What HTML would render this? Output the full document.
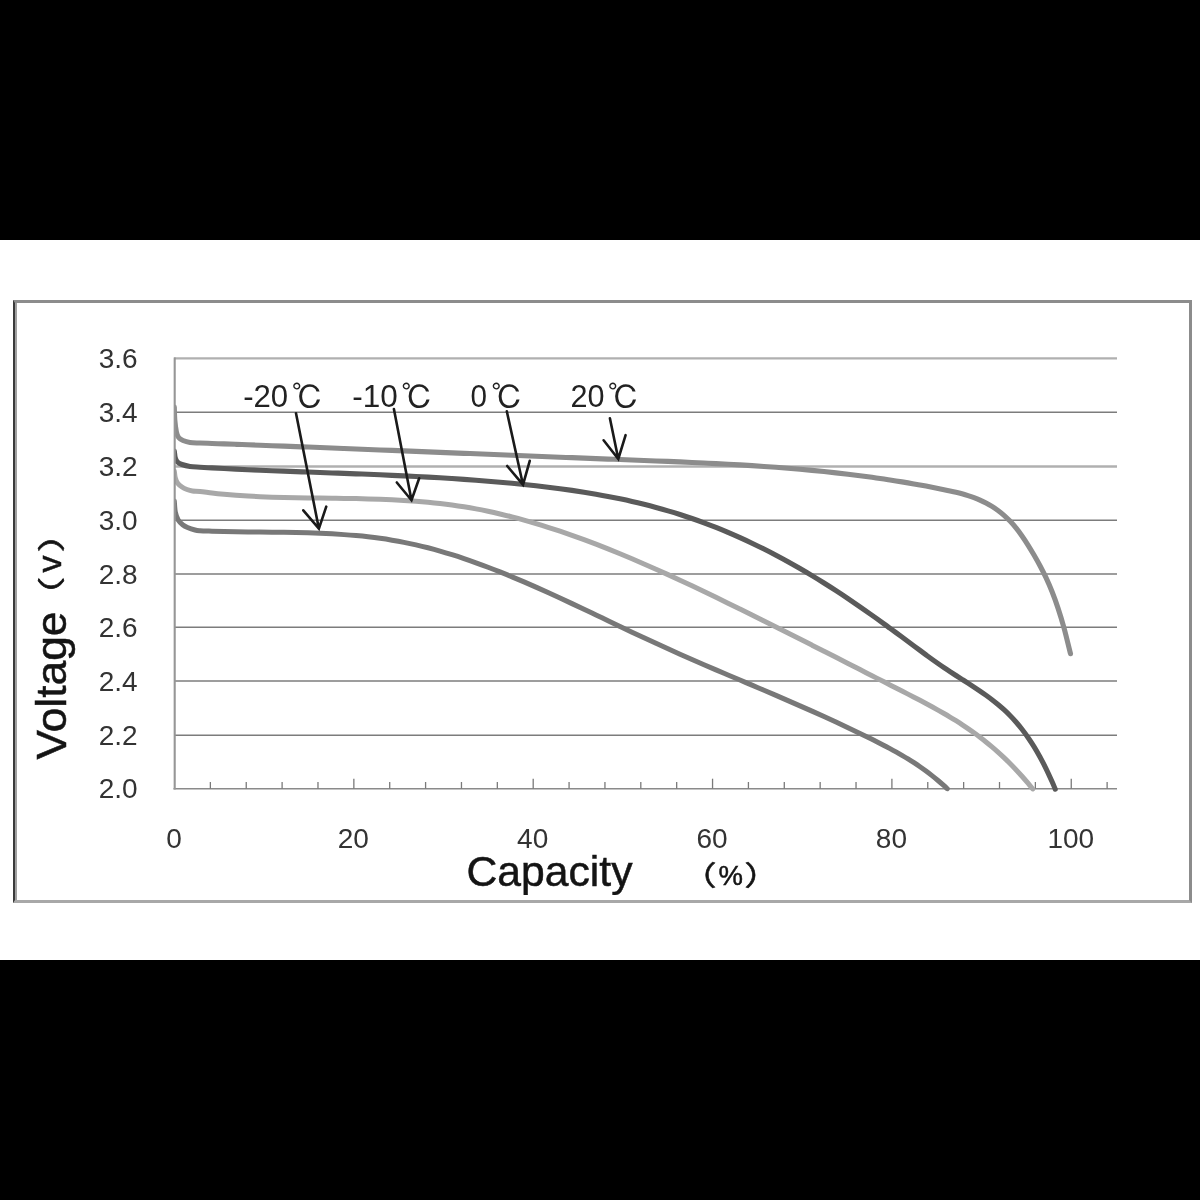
<!DOCTYPE html>
<html lang="en">
<head>
<meta charset="utf-8">
<title>Discharge curves at different temperatures</title>
<style>
html,body{margin:0;padding:0;background:#000;}
body{width:1200px;height:1200px;position:relative;overflow:hidden;font-family:"Liberation Sans","Noto Sans CJK SC",sans-serif;}
.band{position:absolute;left:0;top:240px;width:1200px;height:720px;background:#fff;}
.frame{position:absolute;left:13px;top:300px;width:1173.5px;height:597px;box-sizing:content-box;border-top:3px solid #8c8c8c;border-right:3.5px solid #8c8c8c;border-bottom:3px solid #a8a8a8;border-left:2.5px solid #3a3a3a;}
.frame:before{content:"";position:absolute;left:0;top:0;width:2px;height:100%;background:#a0a0a0;}
svg{position:absolute;left:0;top:0;}
svg .soft{filter:blur(0.45px);}
svg text{font-family:"Liberation Sans","Noto Sans CJK SC",sans-serif;}
svg text.cjk{font-family:"Noto Sans CJK SC","Liberation Sans",sans-serif;}
svg text.ipa{font-family:"IPAGothic","Noto Sans CJK JP","Liberation Sans",sans-serif;}
</style>
</head>
<body>
<div class="band"></div>
<div class="frame"></div>
<svg width="1200" height="1200" viewBox="0 0 1200 1200">
<g class="grid">
<line x1="174" y1="358.40" x2="1117" y2="358.40" stroke="#b0b0b0" stroke-width="2.4"/>
<line x1="174" y1="412.20" x2="1117" y2="412.20" stroke="#7c7c7c" stroke-width="1.5"/>
<line x1="174" y1="466.50" x2="1117" y2="466.50" stroke="#b0b0b0" stroke-width="2.4"/>
<line x1="174" y1="520.20" x2="1117" y2="520.20" stroke="#7c7c7c" stroke-width="1.5"/>
<line x1="174" y1="574.10" x2="1117" y2="574.10" stroke="#7c7c7c" stroke-width="1.5"/>
<line x1="174" y1="627.20" x2="1117" y2="627.20" stroke="#7c7c7c" stroke-width="1.5"/>
<line x1="174" y1="681.00" x2="1117" y2="681.00" stroke="#7c7c7c" stroke-width="1.5"/>
<line x1="174" y1="735.20" x2="1117" y2="735.20" stroke="#7c7c7c" stroke-width="1.5"/>
<line x1="173.5" y1="788.70" x2="1117" y2="788.70" stroke="#8a8a8a" stroke-width="1.6"/>
<line x1="210.37" y1="782.0" x2="210.37" y2="788.7" stroke="#7a7a7a" stroke-width="1.3"/>
<line x1="246.24" y1="782.0" x2="246.24" y2="788.7" stroke="#7a7a7a" stroke-width="1.3"/>
<line x1="282.11" y1="782.0" x2="282.11" y2="788.7" stroke="#7a7a7a" stroke-width="1.3"/>
<line x1="317.98" y1="782.0" x2="317.98" y2="788.7" stroke="#7a7a7a" stroke-width="1.3"/>
<line x1="353.85" y1="778.7" x2="353.85" y2="788.7" stroke="#7a7a7a" stroke-width="1.3"/>
<line x1="389.72" y1="782.0" x2="389.72" y2="788.7" stroke="#7a7a7a" stroke-width="1.3"/>
<line x1="425.59" y1="782.0" x2="425.59" y2="788.7" stroke="#7a7a7a" stroke-width="1.3"/>
<line x1="461.46" y1="782.0" x2="461.46" y2="788.7" stroke="#7a7a7a" stroke-width="1.3"/>
<line x1="497.33" y1="782.0" x2="497.33" y2="788.7" stroke="#7a7a7a" stroke-width="1.3"/>
<line x1="533.20" y1="778.7" x2="533.20" y2="788.7" stroke="#7a7a7a" stroke-width="1.3"/>
<line x1="569.07" y1="782.0" x2="569.07" y2="788.7" stroke="#7a7a7a" stroke-width="1.3"/>
<line x1="604.94" y1="782.0" x2="604.94" y2="788.7" stroke="#7a7a7a" stroke-width="1.3"/>
<line x1="640.81" y1="782.0" x2="640.81" y2="788.7" stroke="#7a7a7a" stroke-width="1.3"/>
<line x1="676.68" y1="782.0" x2="676.68" y2="788.7" stroke="#7a7a7a" stroke-width="1.3"/>
<line x1="712.55" y1="778.7" x2="712.55" y2="788.7" stroke="#7a7a7a" stroke-width="1.3"/>
<line x1="748.42" y1="782.0" x2="748.42" y2="788.7" stroke="#7a7a7a" stroke-width="1.3"/>
<line x1="784.29" y1="782.0" x2="784.29" y2="788.7" stroke="#7a7a7a" stroke-width="1.3"/>
<line x1="820.16" y1="782.0" x2="820.16" y2="788.7" stroke="#7a7a7a" stroke-width="1.3"/>
<line x1="856.03" y1="782.0" x2="856.03" y2="788.7" stroke="#7a7a7a" stroke-width="1.3"/>
<line x1="891.90" y1="778.7" x2="891.90" y2="788.7" stroke="#7a7a7a" stroke-width="1.3"/>
<line x1="927.77" y1="782.0" x2="927.77" y2="788.7" stroke="#7a7a7a" stroke-width="1.3"/>
<line x1="963.64" y1="782.0" x2="963.64" y2="788.7" stroke="#7a7a7a" stroke-width="1.3"/>
<line x1="999.51" y1="782.0" x2="999.51" y2="788.7" stroke="#7a7a7a" stroke-width="1.3"/>
<line x1="1035.38" y1="782.0" x2="1035.38" y2="788.7" stroke="#7a7a7a" stroke-width="1.3"/>
<line x1="1071.25" y1="778.7" x2="1071.25" y2="788.7" stroke="#7a7a7a" stroke-width="1.3"/>
<line x1="1107.12" y1="782.0" x2="1107.12" y2="788.7" stroke="#7a7a7a" stroke-width="1.3"/>
</g>
<clipPath id="plotclip"><rect x="174" y="340" width="960" height="460"/></clipPath>
<g class="curves soft" fill="none" stroke-linecap="round" stroke-linejoin="round" clip-path="url(#plotclip)">
<path d="M174.30 501.00 C174.47 502.83 174.65 508.83 175.30 512.00 C175.95 515.17 176.92 517.83 178.20 520.00 C179.48 522.17 181.45 523.75 183.00 525.00 C184.55 526.25 185.50 526.67 187.50 527.50 C189.50 528.33 192.92 529.46 195.00 530.00 C197.08 530.54 197.17 530.52 200.00 530.72 C202.83 530.92 208.00 531.05 212.00 531.19 C216.00 531.32 220.00 531.43 224.00 531.52 C228.00 531.62 232.00 531.69 236.00 531.76 C240.00 531.83 244.00 531.88 248.00 531.93 C252.00 531.98 256.00 532.02 260.00 532.06 C264.00 532.10 268.00 532.14 272.00 532.19 C276.00 532.23 280.00 532.28 284.00 532.34 C288.00 532.40 292.00 532.47 296.00 532.55 C300.00 532.64 304.00 532.74 308.00 532.86 C312.00 532.98 316.00 533.12 320.00 533.28 C324.00 533.45 328.00 533.64 332.00 533.86 C336.00 534.09 340.00 534.34 344.00 534.63 C348.00 534.92 352.00 535.24 356.00 535.61 C360.00 535.98 364.00 536.38 368.00 536.84 C372.00 537.30 376.00 537.79 380.00 538.35 C384.00 538.90 388.00 539.51 392.00 540.17 C396.00 540.84 400.00 541.55 404.00 542.34 C408.00 543.12 412.00 543.97 416.00 544.88 C420.00 545.79 424.00 546.76 428.00 547.79 C432.00 548.83 436.00 549.92 440.00 551.07 C444.00 552.21 448.00 553.42 452.00 554.67 C456.00 555.92 460.00 557.23 464.00 558.58 C468.00 559.93 472.00 561.33 476.00 562.78 C480.00 564.22 484.00 565.70 488.00 567.23 C492.00 568.75 496.00 570.32 500.00 571.92 C504.00 573.51 508.00 575.15 512.00 576.82 C516.00 578.48 520.00 580.18 524.00 581.90 C528.00 583.62 532.00 585.38 536.00 587.15 C540.00 588.92 544.00 590.72 548.00 592.54 C552.00 594.35 556.00 596.19 560.00 598.04 C564.00 599.89 568.00 601.76 572.00 603.64 C576.00 605.51 580.00 607.40 584.00 609.30 C588.00 611.19 592.00 613.10 596.00 615.00 C600.00 616.91 604.00 618.82 608.00 620.73 C612.00 622.64 616.00 624.55 620.00 626.45 C624.00 628.35 628.00 630.25 632.00 632.14 C636.00 634.03 640.00 635.91 644.00 637.78 C648.00 639.65 652.00 641.50 656.00 643.34 C660.00 645.18 664.00 647.00 668.00 648.80 C672.00 650.61 676.00 652.40 680.00 654.17 C684.00 655.94 688.00 657.70 692.00 659.45 C696.00 661.20 700.00 662.94 704.00 664.67 C708.00 666.40 712.00 668.12 716.00 669.83 C720.00 671.55 724.00 673.25 728.00 674.96 C732.00 676.67 736.00 678.37 740.00 680.07 C744.00 681.77 748.00 683.47 752.00 685.17 C756.00 686.87 760.00 688.58 764.00 690.28 C768.00 691.99 772.00 693.70 776.00 695.42 C780.00 697.14 784.00 698.87 788.00 700.61 C792.00 702.34 796.00 704.09 800.00 705.85 C804.00 707.60 808.00 709.37 812.00 711.16 C816.00 712.94 820.00 714.74 824.00 716.56 C828.00 718.38 832.00 720.21 836.00 722.07 C840.00 723.92 844.00 725.79 848.00 727.69 C852.00 729.59 856.00 731.51 860.00 733.45 C864.00 735.40 868.00 737.36 872.00 739.36 C876.00 741.36 881.00 743.91 884.00 745.46 C887.00 747.00 888.00 747.55 890.00 748.62 C892.00 749.69 894.00 750.78 896.00 751.90 C898.00 753.01 900.00 754.15 902.00 755.32 C904.00 756.49 906.00 757.68 908.00 758.91 C910.00 760.14 912.00 761.40 914.00 762.71 C916.00 764.01 918.00 765.35 920.00 766.73 C922.00 768.12 924.00 769.54 926.00 771.02 C928.00 772.50 930.00 774.02 932.00 775.60 C934.00 777.17 936.00 778.80 938.00 780.49 C940.00 782.18 942.46 784.36 944.00 785.73 C945.54 787.10 946.71 788.23 947.25 788.72" stroke="#787878" stroke-width="5"/>
<path d="M174.30 471.00 C174.47 472.17 174.77 476.00 175.30 478.00 C175.83 480.00 176.38 481.50 177.50 483.00 C178.62 484.50 180.42 485.92 182.00 487.00 C183.58 488.08 185.25 488.83 187.00 489.50 C188.75 490.17 190.33 490.68 192.50 491.00 C194.67 491.32 196.75 491.08 200.00 491.40 C203.25 491.72 208.00 492.45 212.00 492.92 C216.00 493.38 220.00 493.79 224.00 494.17 C228.00 494.55 232.00 494.89 236.00 495.20 C240.00 495.50 244.00 495.77 248.00 496.01 C252.00 496.26 256.00 496.46 260.00 496.65 C264.00 496.84 268.00 497.00 272.00 497.14 C276.00 497.28 280.00 497.40 284.00 497.50 C288.00 497.61 292.00 497.69 296.00 497.77 C300.00 497.85 304.00 497.91 308.00 497.97 C312.00 498.03 316.00 498.07 320.00 498.12 C324.00 498.17 328.00 498.22 332.00 498.27 C336.00 498.32 340.00 498.36 344.00 498.42 C348.00 498.48 352.00 498.54 356.00 498.62 C360.00 498.70 364.00 498.78 368.00 498.89 C372.00 498.99 376.00 499.11 380.00 499.25 C384.00 499.39 388.00 499.55 392.00 499.74 C396.00 499.93 400.00 500.13 404.00 500.38 C408.00 500.62 412.00 500.89 416.00 501.19 C420.00 501.50 424.00 501.84 428.00 502.22 C432.00 502.60 436.00 503.01 440.00 503.48 C444.00 503.94 448.00 504.44 452.00 504.99 C456.00 505.55 460.00 506.15 464.00 506.80 C468.00 507.46 472.00 508.16 476.00 508.91 C480.00 509.66 484.00 510.47 488.00 511.31 C492.00 512.16 496.00 513.06 500.00 514.00 C504.00 514.94 508.00 515.92 512.00 516.95 C516.00 517.98 520.00 519.05 524.00 520.16 C528.00 521.27 532.00 522.42 536.00 523.62 C540.00 524.81 544.00 526.04 548.00 527.31 C552.00 528.58 556.00 529.88 560.00 531.22 C564.00 532.56 568.00 533.94 572.00 535.35 C576.00 536.76 580.00 538.21 584.00 539.68 C588.00 541.15 592.00 542.66 596.00 544.20 C600.00 545.73 604.00 547.30 608.00 548.90 C612.00 550.49 616.00 552.11 620.00 553.76 C624.00 555.41 628.00 557.08 632.00 558.78 C636.00 560.47 640.00 562.20 644.00 563.94 C648.00 565.68 652.00 567.45 656.00 569.24 C660.00 571.02 664.00 572.83 668.00 574.65 C672.00 576.48 676.00 578.32 680.00 580.18 C684.00 582.04 688.00 583.92 692.00 585.80 C696.00 587.69 700.00 589.60 704.00 591.52 C708.00 593.43 712.00 595.36 716.00 597.30 C720.00 599.24 724.00 601.20 728.00 603.16 C732.00 605.12 736.00 607.09 740.00 609.06 C744.00 611.04 748.00 613.02 752.00 615.01 C756.00 617.00 760.00 618.99 764.00 620.99 C768.00 622.98 772.00 624.99 776.00 626.99 C780.00 629.00 784.00 631.01 788.00 633.03 C792.00 635.04 796.00 637.06 800.00 639.08 C804.00 641.10 808.00 643.13 812.00 645.16 C816.00 647.18 820.00 649.21 824.00 651.25 C828.00 653.28 832.00 655.31 836.00 657.35 C840.00 659.39 844.00 661.43 848.00 663.47 C852.00 665.51 856.00 667.55 860.00 669.59 C864.00 671.63 868.00 673.68 872.00 675.72 C876.00 677.76 881.00 680.32 884.00 681.85 C887.00 683.38 888.00 683.89 890.00 684.91 C892.00 685.93 894.00 686.96 896.00 687.98 C898.00 689.00 900.00 690.02 902.00 691.04 C904.00 692.06 906.00 693.08 908.00 694.11 C910.00 695.13 912.00 696.16 914.00 697.20 C916.00 698.23 918.00 699.27 920.00 700.32 C922.00 701.37 924.00 702.43 926.00 703.50 C928.00 704.57 930.00 705.65 932.00 706.74 C934.00 707.84 936.00 708.94 938.00 710.07 C940.00 711.20 942.00 712.34 944.00 713.50 C946.00 714.66 948.00 715.84 950.00 717.05 C952.00 718.25 954.00 719.48 956.00 720.73 C958.00 721.99 960.00 723.26 962.00 724.57 C964.00 725.88 966.00 727.22 968.00 728.59 C970.00 729.96 972.00 731.37 974.00 732.81 C976.00 734.25 978.00 735.73 980.00 737.25 C982.00 738.77 984.00 740.32 986.00 741.93 C988.00 743.53 990.00 745.18 992.00 746.87 C994.00 748.56 996.00 750.30 998.00 752.09 C1000.00 753.89 1002.00 755.73 1004.00 757.62 C1006.00 759.52 1008.00 761.47 1010.00 763.47 C1012.00 765.48 1014.00 767.54 1016.00 769.67 C1018.00 771.80 1020.00 773.98 1022.00 776.23 C1024.00 778.49 1026.21 781.06 1028.00 783.18 C1029.79 785.31 1031.96 788.01 1032.75 788.97" stroke="#a8a8a8" stroke-width="5"/>
<path d="M174.30 451.00 C174.47 452.17 174.77 456.17 175.30 458.00 C175.83 459.83 176.38 460.92 177.50 462.00 C178.62 463.08 179.92 463.75 182.00 464.50 C184.08 465.25 187.00 466.05 190.00 466.50 C193.00 466.95 196.33 466.99 200.00 467.22 C203.67 467.45 208.00 467.68 212.00 467.90 C216.00 468.12 220.00 468.33 224.00 468.54 C228.00 468.74 232.00 468.94 236.00 469.13 C240.00 469.32 244.00 469.50 248.00 469.68 C252.00 469.86 256.00 470.03 260.00 470.20 C264.00 470.37 268.00 470.53 272.00 470.69 C276.00 470.85 280.00 471.01 284.00 471.16 C288.00 471.32 292.00 471.47 296.00 471.62 C300.00 471.77 304.00 471.91 308.00 472.06 C312.00 472.21 316.00 472.35 320.00 472.50 C324.00 472.65 328.00 472.79 332.00 472.94 C336.00 473.09 340.00 473.23 344.00 473.38 C348.00 473.53 352.00 473.69 356.00 473.84 C360.00 474.00 364.00 474.15 368.00 474.31 C372.00 474.48 376.00 474.64 380.00 474.81 C384.00 474.98 388.00 475.15 392.00 475.33 C396.00 475.51 400.00 475.70 404.00 475.89 C408.00 476.08 412.00 476.28 416.00 476.49 C420.00 476.69 424.00 476.91 428.00 477.13 C432.00 477.35 436.00 477.58 440.00 477.82 C444.00 478.06 448.00 478.31 452.00 478.56 C456.00 478.82 460.00 479.09 464.00 479.37 C468.00 479.65 472.00 479.94 476.00 480.24 C480.00 480.55 484.00 480.86 488.00 481.19 C492.00 481.52 496.00 481.86 500.00 482.21 C504.00 482.57 508.00 482.93 512.00 483.32 C516.00 483.70 520.00 484.10 524.00 484.51 C528.00 484.92 532.00 485.35 536.00 485.80 C540.00 486.25 544.00 486.71 548.00 487.20 C552.00 487.69 556.00 488.20 560.00 488.73 C564.00 489.26 568.00 489.82 572.00 490.40 C576.00 490.98 580.00 491.59 584.00 492.23 C588.00 492.87 592.00 493.54 596.00 494.24 C600.00 494.94 604.00 495.66 608.00 496.43 C612.00 497.20 616.00 498.00 620.00 498.83 C624.00 499.67 628.00 500.54 632.00 501.46 C636.00 502.37 640.00 503.33 644.00 504.32 C648.00 505.32 652.00 506.36 656.00 507.44 C660.00 508.53 664.00 509.65 668.00 510.83 C672.00 512.01 676.00 513.23 680.00 514.51 C684.00 515.78 688.00 517.11 692.00 518.49 C696.00 519.86 700.00 521.29 704.00 522.78 C708.00 524.27 712.00 525.81 716.00 527.40 C720.00 529.00 724.00 530.65 728.00 532.35 C732.00 534.05 736.00 535.81 740.00 537.62 C744.00 539.42 748.00 541.28 752.00 543.19 C756.00 545.11 760.00 547.07 764.00 549.08 C768.00 551.10 772.00 553.16 776.00 555.28 C780.00 557.39 784.00 559.56 788.00 561.77 C792.00 563.99 796.00 566.25 800.00 568.56 C804.00 570.87 808.00 573.24 812.00 575.65 C816.00 578.05 820.00 580.51 824.00 583.02 C828.00 585.52 832.00 588.07 836.00 590.67 C840.00 593.27 844.00 595.91 848.00 598.60 C852.00 601.29 856.00 604.03 860.00 606.80 C864.00 609.58 868.00 612.40 872.00 615.24 C876.00 618.09 881.00 621.70 884.00 623.87 C887.00 626.03 888.00 626.78 890.00 628.24 C892.00 629.70 894.00 631.17 896.00 632.64 C898.00 634.11 900.00 635.58 902.00 637.06 C904.00 638.54 906.00 640.02 908.00 641.50 C910.00 642.98 912.00 644.47 914.00 645.95 C916.00 647.44 918.00 648.93 920.00 650.41 C922.00 651.89 924.00 653.38 926.00 654.85 C928.00 656.31 930.00 657.78 932.00 659.22 C934.00 660.66 936.00 662.09 938.00 663.50 C940.00 664.90 942.00 666.29 944.00 667.65 C946.00 669.01 948.00 670.33 950.00 671.64 C952.00 672.95 954.00 674.23 956.00 675.51 C958.00 676.80 960.00 678.06 962.00 679.33 C964.00 680.60 966.00 681.86 968.00 683.15 C970.00 684.43 972.00 685.72 974.00 687.03 C976.00 688.35 978.00 689.68 980.00 691.05 C982.00 692.42 984.00 693.81 986.00 695.25 C988.00 696.70 990.00 698.17 992.00 699.71 C994.00 701.25 996.00 702.83 998.00 704.50 C1000.00 706.18 1002.00 707.90 1004.00 709.74 C1006.00 711.58 1008.00 713.50 1010.00 715.55 C1012.00 717.59 1014.00 719.73 1016.00 722.03 C1018.00 724.32 1020.00 726.72 1022.00 729.30 C1024.00 731.87 1026.00 734.58 1028.00 737.47 C1030.00 740.37 1032.00 743.42 1034.00 746.67 C1036.00 749.93 1038.00 753.35 1040.00 757.00 C1042.00 760.66 1044.00 764.50 1046.00 768.59 C1048.00 772.68 1050.46 778.11 1052.00 781.54 C1053.54 784.97 1054.71 787.89 1055.25 789.16" stroke="#5a5a5a" stroke-width="5.1"/>
<path d="M174.30 407.00 C174.38 409.17 174.45 415.83 174.80 420.00 C175.15 424.17 175.77 429.08 176.40 432.00 C177.03 434.92 177.50 436.08 178.60 437.50 C179.70 438.92 181.10 439.67 183.00 440.50 C184.90 441.33 187.17 442.08 190.00 442.50 C192.83 442.92 196.33 442.87 200.00 443.03 C203.67 443.19 208.00 443.32 212.00 443.46 C216.00 443.61 220.00 443.75 224.00 443.90 C228.00 444.04 232.00 444.19 236.00 444.34 C240.00 444.49 244.00 444.63 248.00 444.78 C252.00 444.93 256.00 445.08 260.00 445.23 C264.00 445.38 268.00 445.54 272.00 445.69 C276.00 445.84 280.00 445.99 284.00 446.15 C288.00 446.30 292.00 446.45 296.00 446.61 C300.00 446.76 304.00 446.92 308.00 447.07 C312.00 447.23 316.00 447.39 320.00 447.54 C324.00 447.70 328.00 447.86 332.00 448.02 C336.00 448.17 340.00 448.33 344.00 448.49 C348.00 448.65 352.00 448.81 356.00 448.97 C360.00 449.13 364.00 449.29 368.00 449.45 C372.00 449.61 376.00 449.77 380.00 449.93 C384.00 450.09 388.00 450.25 392.00 450.41 C396.00 450.57 400.00 450.73 404.00 450.90 C408.00 451.06 412.00 451.22 416.00 451.38 C420.00 451.54 424.00 451.71 428.00 451.87 C432.00 452.03 436.00 452.19 440.00 452.36 C444.00 452.52 448.00 452.68 452.00 452.84 C456.00 453.01 460.00 453.17 464.00 453.33 C468.00 453.49 472.00 453.66 476.00 453.82 C480.00 453.98 484.00 454.14 488.00 454.30 C492.00 454.47 496.00 454.63 500.00 454.79 C504.00 454.95 508.00 455.11 512.00 455.27 C516.00 455.44 520.00 455.60 524.00 455.76 C528.00 455.92 532.00 456.08 536.00 456.24 C540.00 456.40 544.00 456.56 548.00 456.72 C552.00 456.88 556.00 457.04 560.00 457.20 C564.00 457.36 568.00 457.51 572.00 457.67 C576.00 457.83 580.00 457.99 584.00 458.14 C588.00 458.30 592.00 458.46 596.00 458.61 C600.00 458.77 604.00 458.92 608.00 459.08 C612.00 459.23 616.00 459.39 620.00 459.54 C624.00 459.70 628.00 459.85 632.00 460.00 C636.00 460.16 640.00 460.31 644.00 460.46 C648.00 460.62 652.00 460.77 656.00 460.93 C660.00 461.09 664.00 461.25 668.00 461.42 C672.00 461.58 676.00 461.75 680.00 461.92 C684.00 462.09 688.00 462.26 692.00 462.45 C696.00 462.63 700.00 462.81 704.00 463.00 C708.00 463.20 712.00 463.39 716.00 463.60 C720.00 463.81 724.00 464.02 728.00 464.24 C732.00 464.46 736.00 464.69 740.00 464.92 C744.00 465.16 748.00 465.41 752.00 465.67 C756.00 465.92 760.00 466.19 764.00 466.47 C768.00 466.74 772.00 467.03 776.00 467.33 C780.00 467.63 784.00 467.95 788.00 468.27 C792.00 468.60 796.00 468.94 800.00 469.29 C804.00 469.64 808.00 470.01 812.00 470.39 C816.00 470.77 820.00 471.16 824.00 471.58 C828.00 471.99 832.00 472.42 836.00 472.86 C840.00 473.30 844.00 473.77 848.00 474.24 C852.00 474.72 856.00 475.22 860.00 475.74 C864.00 476.25 868.00 476.78 872.00 477.34 C876.00 477.89 881.00 478.62 884.00 479.06 C887.00 479.50 888.00 479.66 890.00 479.97 C892.00 480.28 894.00 480.59 896.00 480.91 C898.00 481.22 900.00 481.55 902.00 481.88 C904.00 482.21 906.00 482.54 908.00 482.88 C910.00 483.22 912.00 483.57 914.00 483.92 C916.00 484.27 918.00 484.63 920.00 484.99 C922.00 485.36 924.00 485.73 926.00 486.10 C928.00 486.48 930.00 486.86 932.00 487.25 C934.00 487.63 936.00 488.03 938.00 488.43 C940.00 488.83 942.00 489.23 944.00 489.65 C946.00 490.06 948.00 490.47 950.00 490.91 C952.00 491.35 954.00 491.79 956.00 492.27 C958.00 492.75 960.00 493.25 962.00 493.80 C964.00 494.35 966.00 494.92 968.00 495.56 C970.00 496.20 972.00 496.88 974.00 497.63 C976.00 498.38 978.00 499.18 980.00 500.07 C982.00 500.96 984.00 501.91 986.00 502.96 C988.00 504.01 990.00 505.13 992.00 506.38 C994.00 507.63 996.00 508.97 998.00 510.46 C1000.00 511.95 1002.00 513.55 1004.00 515.32 C1006.00 517.10 1008.00 519.01 1010.00 521.11 C1012.00 523.21 1014.00 525.47 1016.00 527.95 C1018.00 530.42 1020.00 533.10 1022.00 535.95 C1024.00 538.80 1026.00 541.87 1028.00 545.05 C1030.00 548.22 1032.00 551.57 1034.00 555.01 C1036.00 558.46 1038.00 561.94 1040.00 565.72 C1042.00 569.49 1044.00 573.35 1046.00 577.65 C1048.00 581.96 1050.00 586.48 1052.00 591.55 C1054.00 596.62 1056.00 602.03 1058.00 608.08 C1060.00 614.13 1061.92 620.25 1064.00 627.85 C1066.08 635.46 1069.42 649.41 1070.50 653.72" stroke="#8c8c8c" stroke-width="5.1"/>
</g>
<line x1="174.7" y1="357.4" x2="174.7" y2="789.5" stroke="#969696" stroke-width="2.1"/>
<g class="arrows soft" fill="none" stroke="#1a1a1a" stroke-width="2.6" stroke-linecap="round">
<path d="M296 413.2 L318.9 528.7 M303.3 510.3 L318.9 528.7 L326.25 506.7"/>
<path d="M393.9 409.1 L411.5 500.25 M396.8 482.5 L411.5 500.25 L419.2 478.25"/>
<path d="M506.8 411.3 L523 484.7 M507.2 466 L523 484.7 L529.75 460.8"/>
<path d="M609.9 418.3 L618.3 459 M603.6 440.3 L618.3 459 L625.6 435.2"/>
</g>
<g class="ticks soft" font-size="28" text-anchor="middle" fill="#333">
<text x="118.2" y="368.10">3.6</text>
<text x="118.2" y="421.90">3.4</text>
<text x="118.2" y="476.20">3.2</text>
<text x="118.2" y="529.90">3.0</text>
<text x="118.2" y="583.80">2.8</text>
<text x="118.2" y="636.90">2.6</text>
<text x="118.2" y="690.70">2.4</text>
<text x="118.2" y="744.90">2.2</text>
<text x="118.2" y="798.40">2.0</text>
<text x="174.00" y="848">0</text>
<text x="353.35" y="848">20</text>
<text x="532.70" y="848">40</text>
<text x="712.05" y="848">60</text>
<text x="891.40" y="848">80</text>
<text x="1070.75" y="848">100</text>
</g>
<g class="titles soft" fill="#141414" stroke="#141414" stroke-width="0.5">
<text x="466.5" y="885.5" font-size="42" textLength="166" lengthAdjust="spacingAndGlyphs">Capacity</text>
<text transform="translate(681.1,884.8) scale(1.3,1)" font-size="27.4" class="cjk">（</text>
<text x="718.4" y="885.3" font-size="27.5">%</text>
<text transform="translate(744.25,884.8) scale(1.3,1)" font-size="27.4" class="cjk">）</text>
<text transform="translate(65.5,759.5) rotate(-90)" font-size="43" textLength="148" lengthAdjust="spacingAndGlyphs">Voltage</text>
<text transform="translate(61.3,616.25) rotate(-90) scale(1.45,1)" font-size="27.4" class="cjk">（</text>
<text transform="translate(61,572.5) rotate(-90)" font-size="34">v</text>
<text transform="translate(61.3,552.45) rotate(-90) scale(1.45,1)" font-size="27.4" class="cjk">）</text>
</g>
<g class="labels soft" fill="#222">
<text x="243.2" y="407.2" font-size="31" textLength="45" lengthAdjust="spacingAndGlyphs">-20</text><text x="291.4" y="409" font-size="32" class="ipa">℃</text>
<text x="352.3" y="407.2" font-size="31" textLength="45.5" lengthAdjust="spacingAndGlyphs">-10</text><text x="400.9" y="409" font-size="32" class="ipa">℃</text>
<text x="470.5" y="407.2" font-size="31" textLength="16.5" lengthAdjust="spacingAndGlyphs">0</text><text x="490.9" y="409" font-size="32" class="ipa">℃</text>
<text x="570.5" y="407.2" font-size="31" textLength="34" lengthAdjust="spacingAndGlyphs">20</text><text x="607.6" y="409" font-size="32" class="ipa">℃</text>
</g>
</svg>
</body>
</html>
